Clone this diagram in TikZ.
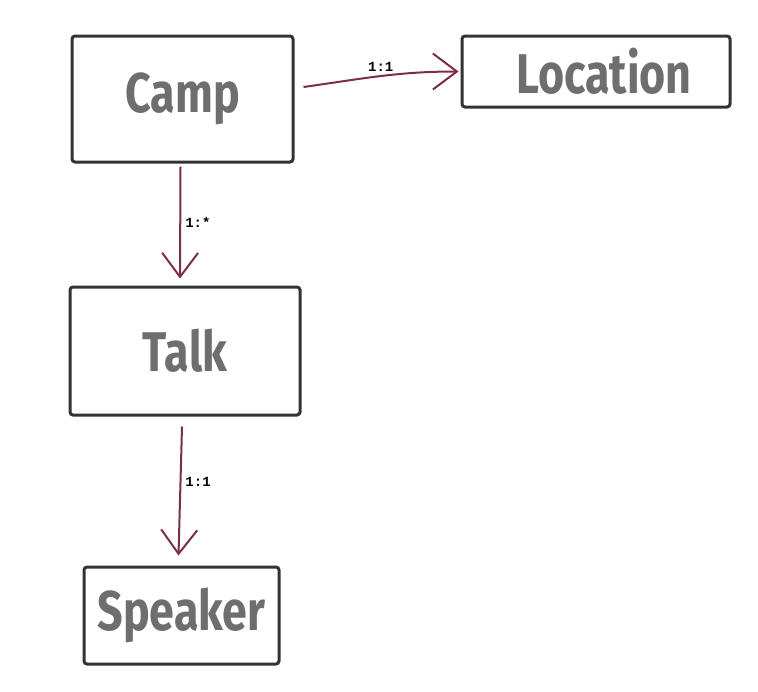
\documentclass[tikz,border=0pt]{standalone}
\usepackage{fontspec}
\usetikzlibrary{arrows.meta,positioning}
\newfontfamily\handfont{Fira Sans}
\newfontfamily\labfont{Liberation Mono}
\definecolor{boxline}{HTML}{333333}
\definecolor{boxtext}{HTML}{6E6E6E}
\definecolor{relcol}{HTML}{7B2D4B}
\newcommand{\sketchtext}[1]{\scalebox{0.8}[1]{#1}}

\begin{document}
\begin{tikzpicture}[x=0.5pt,y=-0.5pt,
	box/.style = {draw=boxline, line width=1.5pt, rounded corners=1.5pt, inner sep=0pt,
		text=boxtext, font=\handfont\bfseries\fontsize{28}{28}\selectfont},
	rel/.style = {draw=relcol, line width=1pt, -{Straight Barb[length=12pt,width=18pt,line width=1pt]}},
	lab/.style = {font=\labfont\bfseries\fontsize{7}{7}\selectfont, inner sep=2pt}]
	\useasboundingbox (0,0) rectangle (758,691);
		\node[box, minimum width=110.5pt, minimum height=63pt] (camp) at (182.5,99) {\raisebox{-1pt}{\sketchtext{Camp}}};
		\node[box, minimum width=134pt, minimum height=35.5pt] (location) at (596,71.5) {\hspace{8pt}\sketchtext{Location}};
		\node[box, minimum width=115pt, minimum height=64pt] (talk) at (185,351) {\sketchtext{Talk}};
		\node[box, minimum width=97.5pt, minimum height=48.5pt] (speaker) at (181.5,615.5) {\raisebox{-5pt}{\sketchtext{Speaker}}};
		\draw[rel] ([xshift=4.5pt,yshift=6pt]camp.east) to[out=8, in=180] node[lab, above, pos=0.5] (l1) {1:1} ([xshift=-1pt]location.west);
		\draw[rel] ([xshift=-1pt,yshift=-1.5pt]camp.south) -- node[lab, right, pos=0.5] (l2) {1:*} ([xshift=-2.5pt,yshift=3.5pt]talk.north);
		\draw[rel] ([xshift=-1.5pt,yshift=-5pt]talk.south) -- node[lab, right, pos=0.43] (l3) {1:1} ([xshift=-1.5pt,yshift=5pt]speaker.north);
	\end{tikzpicture}
\end{document}
